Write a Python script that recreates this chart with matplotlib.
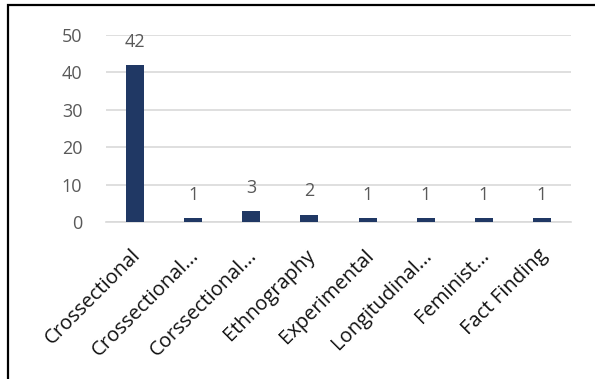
import matplotlib.pyplot as plt
from matplotlib.patches import Rectangle
from matplotlib.transforms import ScaledTranslation

categories = ["Crossectional", "Crossectional...", "Corssectional...", "Ethnography",
              "Experimental", "Longitudinal...", "Feminist...", "Fact Finding"]
counts = [42, 1, 3, 2, 1, 1, 1, 1]
yticks = [0, 10, 20, 30, 40, 50]

bar_color = "#203864"
text_color = "#595959"
grid_color = "#d9d9d9"

plt.rcParams['font.family'] = ['Open Sans', 'DejaVu Sans']

fig = plt.figure(figsize=(5.95, 3.79), dpi=100)
ax = fig.add_axes([106 / 595, 1 - 222 / 379, 465 / 595, 187 / 379])

x = range(len(categories))
ax.bar(x, counts, width=0.31, color=bar_color, zorder=3)
for xi, v in zip(x, counts):
    ax.annotate(str(v), (xi, v), xytext=(0, 13), textcoords="offset points",
                ha="center", va="baseline", fontsize=13, color=text_color)

ax.set_xlim(-0.5, len(categories) - 0.5)
ax.set_ylim(0, 50)
ax.set_yticks(yticks)
ax.set_xticks(list(x))
ax.set_xticklabels(categories, rotation=45, ha="right", va="center",
                   rotation_mode="anchor", fontsize=14.5, color="#111111")
ax.tick_params(axis="x", length=0, pad=22)
ax.tick_params(axis="y", length=0, pad=17, labelsize=13, labelcolor=text_color)
shift = ScaledTranslation(3 / 100, 0, fig.dpi_scale_trans)
for lbl in ax.get_xticklabels():
    lbl.set_transform(lbl.get_transform() + shift)
ax.yaxis.grid(True, color=grid_color, linewidth=1.2, zorder=0)
for s in ["top", "right", "left"]:
    ax.spines[s].set_visible(False)
ax.spines["bottom"].set_color(grid_color)
ax.spines["bottom"].set_linewidth(1.2)

# chart border (cut off at right and bottom)
fig.patches.append(Rectangle((7.5 / 595, -0.1), 1.2, 1.1 - 5.5 / 379, transform=fig.transFigure,
                             fill=False, edgecolor="black", linewidth=1.6))

fig.savefig("out.png", dpi=100)
